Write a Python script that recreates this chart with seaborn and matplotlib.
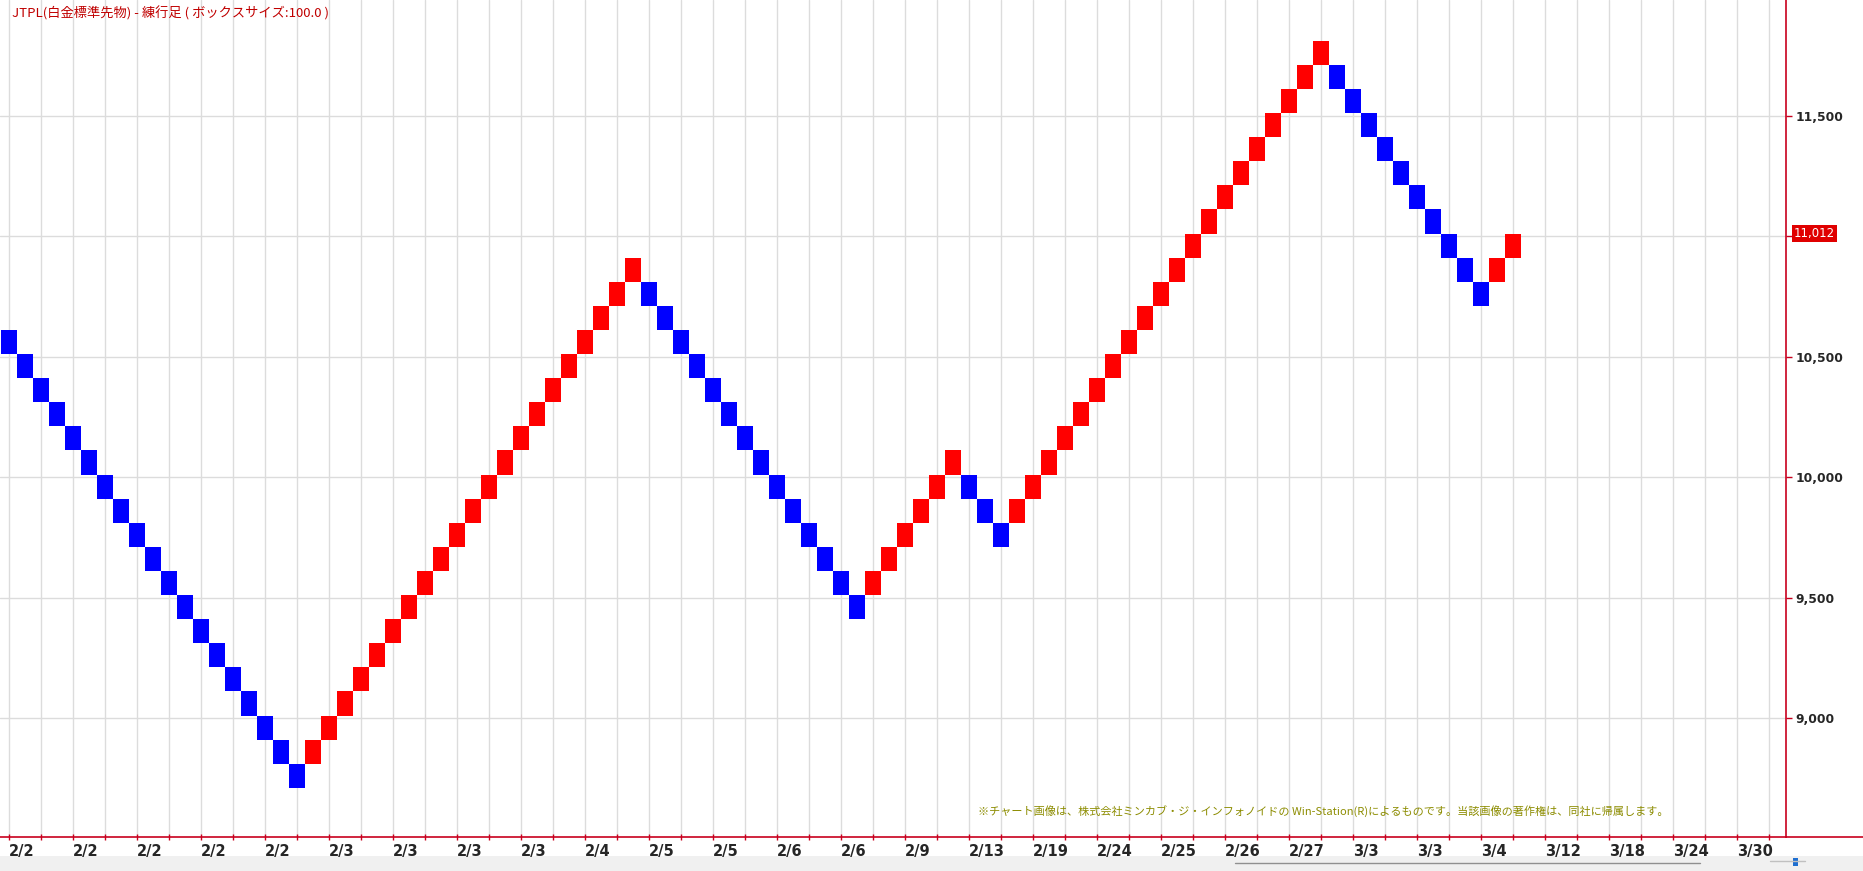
import matplotlib
matplotlib.use("Agg")
import matplotlib.pyplot as plt
import seaborn as sns
import pandas as pd
from matplotlib.lines import Line2D
from matplotlib.patches import Rectangle
from matplotlib.transforms import blended_transform_factory

# ---------------- data ----------------
box_size = 100
brick_low = [
    10512, 10412, 10312, 10212, 10112, 10012, 9912, 9812, 9712, 9612,
    9512, 9412, 9312, 9212, 9112, 9012, 8912, 8812, 8712,
    8812, 8912, 9012, 9112, 9212, 9312, 9412, 9512, 9612, 9712,
    9812, 9912, 10012, 10112, 10212, 10312, 10412, 10512, 10612, 10712, 10812,
    10712, 10612, 10512, 10412, 10312, 10212, 10112, 10012, 9912, 9812,
    9712, 9612, 9512, 9412,
    9512, 9612, 9712, 9812, 9912, 10012,
    9912, 9812, 9712,
    9812, 9912, 10012, 10112, 10212, 10312, 10412, 10512, 10612, 10712,
    10812, 10912, 11012, 11112, 11212, 11312, 11412, 11512, 11612, 11712,
    11612, 11512, 11412, 11312, 11212, 11112, 11012, 10912, 10812, 10712,
    10812, 10912,
]
first_brick_up = False

x_labels = ["2/2", "2/2", "2/2", "2/2", "2/2", "2/3", "2/3", "2/3", "2/3", "2/4",
            "2/5", "2/5", "2/6", "2/6", "2/9", "2/13", "2/19", "2/24", "2/25",
            "2/26", "2/27", "3/3", "3/3", "3/4", "3/12", "3/18", "3/24", "3/30"]
y_ticks = [9000, 9500, 10000, 10500, 11000, 11500]
y_tick_labels = ["9,000", "9,500", "10,000", "10,500", "", "11,500"]
last_price = 11012

title_text = "JTPL(白金標準先物) - 練行足 ( ボックスサイズ:100.0 )"
copyright_text = ("※チャート画像は、株式会社ミンカブ・ジ・インフォノイドの Win-Station(R)"
                  "によるものです。当該画像の著作権は、同社に帰属します。")

# ---------------- build table ----------------
up = [first_brick_up] + [brick_low[i] > brick_low[i - 1] for i in range(1, len(brick_low))]
df = pd.DataFrame({"col": range(len(brick_low)), "low": brick_low, "up": up})
df["color"] = df["up"].map({True: "#ff0000", False: "#0000ff"})

# ---------------- style ----------------
sns.set_theme(style="white")
plt.rcParams["font.family"] = ["Noto Sans CJK JP", "DejaVu Sans"]

W, H = 1863, 871
fig = plt.figure(figsize=(W / 100, H / 100), dpi=100)
fig.patch.set_facecolor("white")

ax_right_px, ax_bottom_px = 1786, 837
ax = fig.add_axes([0, (H - ax_bottom_px) / H, ax_right_px / W, ax_bottom_px / H])
ax.set_facecolor("white")

spine_red = "#c8001e"
grid_col = "#dcdcdc"

ax.set_axisbelow(True)

ax.bar(df["col"], box_size, bottom=df["low"], width=1.0, align="edge",
       color=df["color"], edgecolor="none", linewidth=0, zorder=3)

ax.set_xlim(-0.0625, 111.5625)
ax.set_ylim(8508, 11981)

major_pos = [4 * i + 0.5 for i in range(len(x_labels))]
minor_pos = [4 * i + 2.5 for i in range(len(x_labels))]
ax.set_xticks(major_pos)
ax.set_xticklabels(x_labels, ha="left", fontfamily="DejaVu Sans",
                   fontweight="bold", fontsize=10.5)
ax.set_xticks(minor_pos, minor=True)
ax.tick_params(axis="x", which="both", direction="inout", length=4, width=1,
               color=spine_red, pad=3, bottom=True)
ax.grid(True, axis="x", which="both", color=grid_col, linewidth=1, zorder=0)

ax.yaxis.tick_right()
ax.set_yticks(y_ticks)
ax.set_yticklabels(y_tick_labels, fontfamily="DejaVu Sans",
                   fontweight="bold", fontsize=8.8)
ax.tick_params(axis="y", which="major", direction="out", length=4, width=1,
               color=spine_red, pad=3, right=True, left=False)
ax.grid(True, axis="y", which="major", color=grid_col, linewidth=1, zorder=0)

for s in ["top", "left"]:
    ax.spines[s].set_visible(False)
for s in ["right", "bottom"]:
    ax.spines[s].set_color(spine_red)
    ax.spines[s].set_linewidth(1.2)

# bottom line extends to figure edge
yb = (H - ax_bottom_px) / H
fig.add_artist(Line2D([ax_right_px / W, 1], [yb, yb], color=spine_red, lw=1.2,
                      transform=fig.transFigure))

# last price label
trans = blended_transform_factory(ax.transAxes, ax.transData)
ax.text(1.0 + 8 / ax_right_px, last_price, f"{last_price:,}", transform=trans,
        ha="left", va="center", color="white", fontsize=8.5, fontfamily="DejaVu Sans",
        bbox=dict(boxstyle="square,pad=0.15", facecolor="#e00000", edgecolor="none"),
        clip_on=False, zorder=5)

# title
fig.text(12 / W, 1 - 13 / H, title_text, color="#c00000", fontsize=9.5,
         ha="left", va="center")

# copyright
fig.text(1669 / W, 1 - 811 / H, copyright_text, color="#8c8c00", fontsize=8.0,
         ha="right", va="center")

# bottom grey strip
fig.add_artist(Rectangle((0, 0), 1, 15 / H, transform=fig.transFigure,
                         facecolor="#f0f0f0", edgecolor="none", zorder=0))
fig.add_artist(Line2D([1235 / W, 1700 / W], [8 / H, 8 / H], color="#909090", lw=1,
                      transform=fig.transFigure))
fig.add_artist(Line2D([1770 / W, 1805 / W], [10 / H, 10 / H], color="#c0c0c0", lw=1,
                      transform=fig.transFigure))
fig.add_artist(Rectangle((1793 / W, 5 / H), 5 / W, 8 / H, transform=fig.transFigure,
                         facecolor="#1f6fd0", edgecolor="none"))

fig.savefig("out.png", dpi=100, facecolor="white")
